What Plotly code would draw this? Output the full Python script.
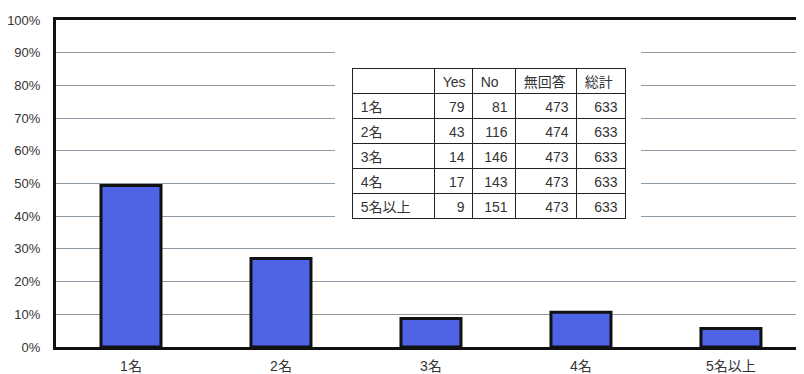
import plotly.graph_objects as go

categories = ["1名", "2名", "3名", "4名", "5名以上"]
yes_counts = [79, 43, 14, 17, 9]
no_counts = [81, 116, 146, 143, 151]
no_answer = [473, 474, 473, 473, 473]
totals = [633, 633, 633, 633, 633]
table_header = ["", "Yes", "No", "無回答", "総計"]
y_tick_vals = [0, 0.1, 0.2, 0.3, 0.4, 0.5, 0.6, 0.7, 0.8, 0.9, 1.0]
y_tick_text = ["0%", "10%", "20%", "30%", "40%", "50%", "60%", "70%", "80%", "90%", "100%"]

yes_share = [y / (y + n) for y, n in zip(yes_counts, no_counts)]

FONT = "Liberation Sans, Arial, Noto Sans CJK JP, sans-serif"

fig = go.Figure()
fig.add_trace(go.Bar(
    x=categories, y=yes_share,
    width=0.4,
    marker=dict(color="#4f63e6", line=dict(color="#111111", width=3)),
    showlegend=False, hoverinfo="skip",
))

fig.add_trace(go.Table(
    domain=dict(x=[0.3966, 0.762], y=[0.385, 0.853]),
    columnwidth=[82, 38, 43, 61, 49],
    header=dict(
        values=table_header,
        align="left",
        height=25,
        fill_color="white",
        line=dict(color="#222222", width=1),
        font=dict(family=FONT, size=14, color="#333333"),
    ),
    cells=dict(
        values=[categories, yes_counts, no_counts, no_answer, totals],
        align=["left", "right", "right", "right", "right"],
        height=25,
        fill_color="white",
        line=dict(color="#222222", width=1),
        font=dict(family=FONT, size=14, color="#333333"),
    ),
))

# white backdrop behind the table that hides the gridlines (between grid and bars)
fig.add_shape(type="rect", xref="x", yref="y",
              x0=1.36, x1=3.4, y0=0.33, y1=0.965,
              fillcolor="white", line=dict(width=0), layer="between")

# page body has an 8px default margin, so the figure is sized to fit inside it
fig.update_layout(
    width=796, height=366,
    margin=dict(l=48, r=0, t=12, b=27, autoexpand=False),
    paper_bgcolor="white", plot_bgcolor="white",
    font=dict(family=FONT, color="#333333"),
    xaxis=dict(
        range=[-0.5, 4.487], automargin=False,
        showline=True, linecolor="#111111", linewidth=3, mirror=True,
        showgrid=False, ticks="", tickfont=dict(size=14, color="#333333"),
        ticklabelstandoff=4,
    ),
    yaxis=dict(
        range=[0, 1], tickvals=y_tick_vals, ticktext=y_tick_text, automargin=False,
        showline=True, linecolor="#111111", linewidth=3,
        showgrid=True, gridcolor="#8e9ba6", gridwidth=1,
        ticks="", tickfont=dict(size=13, color="#333333"),
        ticklabelstandoff=10, zeroline=False,
    ),
    bargap=0.6,
)

fig.write_html("out.html")
